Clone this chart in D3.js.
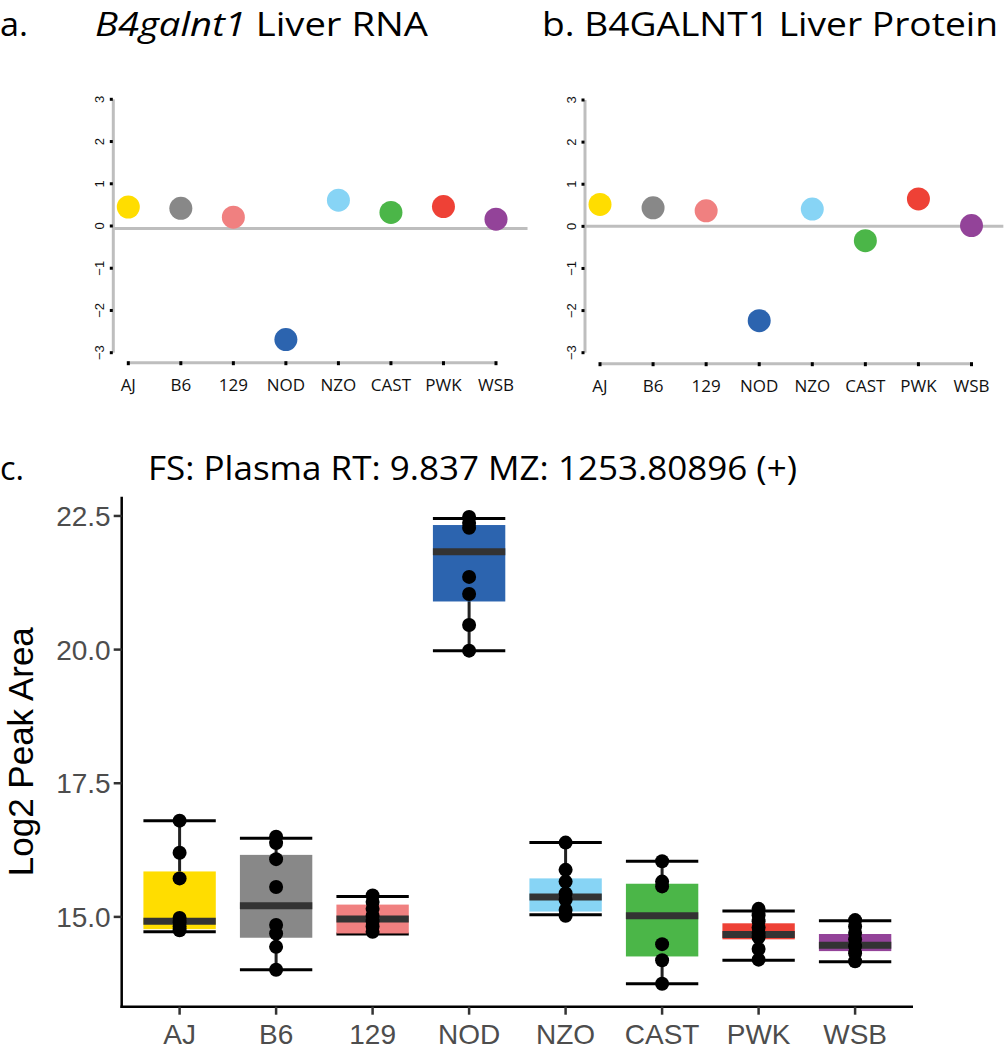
<!DOCTYPE html>
<html>
<head>
<meta charset="utf-8">
<script src="https://cdn.jsdelivr.net/npm/d3@7"></script>
<style>
  html, body { margin: 0; padding: 0; background: #fff; }
  svg { display: block; }
</style>
</head>
<body>
<svg id="chart" width="1007" height="1050"></svg>
<script>
// ---------- DATA ----------
const strains = ["AJ", "B6", "129", "NOD", "NZO", "CAST", "PWK", "WSB"];
const strainColors = ["#FFDD00", "#888888", "#F08080", "#2C64AF", "#87D4F5", "#4BB648", "#EE4136", "#934399"];

// panel a: B4galnt1 liver RNA (log2 fold)
const rnaValues = [0.45, 0.42, 0.21, -2.69, 0.61, 0.32, 0.46, 0.16];
// panel b: B4GALNT1 liver protein
const proteinValues = [0.52, 0.44, 0.37, -2.24, 0.41, -0.34, 0.65, 0.02];
const topTicks = [-3, -2, -1, 0, 1, 2, 3];
const refLineA = -0.06;
const refLineB = 0;

// panel c: box plot stats (Log2 Peak Area)
const whiskerLow  = [14.72, 14.01, 14.68, 19.98, 15.04, 13.75, 14.19, 14.16];
const q1Values    = [14.77, 14.61, 14.69, 20.90, 15.10, 14.26, 14.58, 14.36];
const medianVals  = [14.92, 15.21, 14.96, 21.83, 15.37, 15.02, 14.67, 14.47];
const q3Values    = [15.85, 16.16, 15.23, 22.33, 15.72, 15.62, 14.88, 14.68];
const whiskerHigh = [16.80, 16.47, 15.38, 22.45, 16.39, 16.04, 15.11, 14.93];

const ptsAJ   = [16.80, 16.20, 15.72, 14.98, 14.90, 14.82, 14.75];
const ptsB6   = [16.50, 16.38, 16.08, 15.56, 14.85, 14.69, 14.44, 14.01];
const pts129  = [15.40, 15.28, 15.15, 15.02, 14.92, 14.82, 14.72];
const ptsNOD  = [22.48, 22.37, 22.28, 21.36, 21.04, 20.46, 19.98];
const ptsNZO  = [16.39, 15.88, 15.66, 15.44, 15.32, 15.13, 15.02];
const ptsCAST = [16.04, 15.66, 15.57, 14.49, 14.19, 13.75];
const ptsPWK  = [15.15, 15.03, 14.92, 14.80, 14.70, 14.62, 14.40, 14.20];
const ptsWSB  = [14.94, 14.82, 14.70, 14.58, 14.45, 14.32, 14.17];
const bottomTicks = [15.0, 17.5, 20.0, 22.5];

// ---------- DRAW ----------
(function () {
const svg = d3.select("#chart");
const titleFont = "'Open Sans', 'Noto Sans', sans-serif";
const armFont = "'Liberation Sans', Arial, sans-serif";
const titleSize = 33;

function plainTitle(x, y, txt, len) {
  svg.append("text").attr("x", x).attr("y", y)
    .attr("font-family", titleFont).attr("font-size", titleSize).attr("fill", "#000")
    .attr("textLength", len).attr("lengthAdjust", "spacingAndGlyphs")
    .text(txt);
}
plainTitle(0, 36, "a.", 28);
const tA = svg.append("text").attr("x", 95).attr("y", 36)
  .attr("font-family", titleFont).attr("font-size", titleSize).attr("fill", "#000")
  .attr("textLength", 333).attr("lengthAdjust", "spacingAndGlyphs");
tA.append("tspan").attr("font-style", "italic").text("B4galnt1");
tA.append("tspan").text(" Liver RNA");
plainTitle(542, 36, "b. B4GALNT1 Liver Protein", 456);
plainTitle(0, 480, "c.", 24);
plainTitle(148, 480, "FS: Plasma RT: 9.837 MZ: 1253.80896 (+)", 649);

function dotPanel(values, xRange, yTop, yBot, axisX, axisY, refVal) {
  const x = d3.scalePoint().domain(strains).range(xRange).padding(0);
  const y = d3.scaleLinear().domain([-3, 3]).range([yBot, yTop]);
  const g = svg.append("g");
  g.append("line").attr("x1", axisX).attr("x2", axisX)
    .attr("y1", y(3)).attr("y2", y(-3))
    .attr("stroke", "#BEBEBE").attr("stroke-width", 3);
  g.append("line").attr("x1", xRange[0]).attr("x2", xRange[1])
    .attr("y1", axisY).attr("y2", axisY)
    .attr("stroke", "#BEBEBE").attr("stroke-width", 3);
  g.append("line").attr("x1", axisX).attr("x2", xRange[1] + 0.6 * x.step())
    .attr("y1", y(refVal)).attr("y2", y(refVal))
    .attr("stroke", "#BEBEBE").attr("stroke-width", 3);
  topTicks.forEach(t => {
    g.append("rect").attr("x", axisX - 3.5).attr("y", y(t) - 1.5)
      .attr("width", 3).attr("height", 3).attr("fill", "#000");
    g.append("text")
      .attr("transform", `translate(${axisX - 9},${y(t)}) rotate(-90)`)
      .attr("text-anchor", "middle")
      .attr("font-family", armFont).attr("font-size", 13).attr("fill", "#111")
      .text(t < 0 ? "\u2212" + Math.abs(t) : String(t));
  });
  strains.forEach(s => {
    g.append("rect").attr("x", x(s) - 1.5).attr("y", axisY - 1.5)
      .attr("width", 3).attr("height", 4).attr("fill", "#000");
    g.append("text").attr("x", x(s)).attr("y", axisY + 28)
      .attr("text-anchor", "middle")
      .attr("font-family", titleFont).attr("font-size", 17).attr("fill", "#111")
      .text(s);
  });
  g.selectAll("circle").data(values).join("circle")
    .attr("cx", (d, i) => x(strains[i]))
    .attr("cy", d => y(d))
    .attr("r", 11.5)
    .attr("fill", (d, i) => strainColors[i]);
}
dotPanel(rnaValues, [128.3, 496], 99.3, 352.7, 113.3, 362.7, refLineA);
dotPanel(proteinValues, [600, 971.5], 100, 352.7, 585, 363.7, refLineB);

const pLeft = 121.7, pRight = 913, pTop = 496.7, pBottom = 1006.7;
const xB = d3.scalePoint().domain(strains).range([pLeft, pRight]).padding(0.6);
const yB = d3.scaleLinear().domain([13.32, 22.86]).range([pBottom, pTop]);
const hw = xB.step() * 0.375;
const gB = svg.append("g");
const allPts = [ptsAJ, ptsB6, pts129, ptsNOD, ptsNZO, ptsCAST, ptsPWK, ptsWSB];

strains.forEach((s, i) => {
  const cx = xB(s);
  gB.append("line").attr("x1", cx).attr("x2", cx)
    .attr("y1", yB(whiskerLow[i])).attr("y2", yB(whiskerHigh[i]))
    .attr("stroke", "#222").attr("stroke-width", 3);
  [whiskerLow[i], whiskerHigh[i]].forEach(v => {
    gB.append("line").attr("x1", cx - hw).attr("x2", cx + hw)
      .attr("y1", yB(v)).attr("y2", yB(v))
      .attr("stroke", "#000").attr("stroke-width", 3);
  });
  gB.append("rect").attr("x", cx - hw).attr("width", 2 * hw)
    .attr("y", yB(q3Values[i])).attr("height", yB(q1Values[i]) - yB(q3Values[i]))
    .attr("fill", strainColors[i]);
  gB.append("line").attr("x1", cx - hw).attr("x2", cx + hw)
    .attr("y1", yB(medianVals[i])).attr("y2", yB(medianVals[i]))
    .attr("stroke", "#333333").attr("stroke-width", 7);
  gB.selectAll(null).data(allPts[i]).join("circle")
    .attr("cx", cx).attr("cy", d => yB(d)).attr("r", 7)
    .attr("fill", "#000");
});

gB.append("line").attr("x1", pLeft).attr("x2", pLeft).attr("y1", pTop).attr("y2", pBottom + 1.25)
  .attr("stroke", "#000").attr("stroke-width", 2.5);
gB.append("line").attr("x1", pLeft - 1.25).attr("x2", pRight).attr("y1", pBottom).attr("y2", pBottom)
  .attr("stroke", "#000").attr("stroke-width", 2.5);
bottomTicks.forEach(t => {
  gB.append("line").attr("x1", pLeft - 8).attr("x2", pLeft).attr("y1", yB(t)).attr("y2", yB(t))
    .attr("stroke", "#333").attr("stroke-width", 2.5);
  gB.append("text").attr("x", pLeft - 11).attr("y", yB(t)).attr("dy", "0.36em")
    .attr("text-anchor", "end")
    .attr("font-family", armFont).attr("font-size", 28).attr("fill", "#4D4D4D")
    .text(d3.format(".1f")(t));
});
strains.forEach(s => {
  gB.append("line").attr("x1", xB(s)).attr("x2", xB(s)).attr("y1", pBottom).attr("y2", pBottom + 8)
    .attr("stroke", "#333").attr("stroke-width", 2.5);
  gB.append("text").attr("x", xB(s)).attr("y", pBottom + 37)
    .attr("text-anchor", "middle")
    .attr("font-family", armFont).attr("font-size", 28).attr("fill", "#4D4D4D")
    .text(s);
});
gB.append("text")
  .attr("transform", `translate(33,${(pTop + pBottom) / 2}) rotate(-90)`)
  .attr("text-anchor", "middle")
  .attr("font-family", armFont).attr("font-size", 35).attr("fill", "#000")
  .text("Log2 Peak Area");
})();
</script>
</body>
</html>
